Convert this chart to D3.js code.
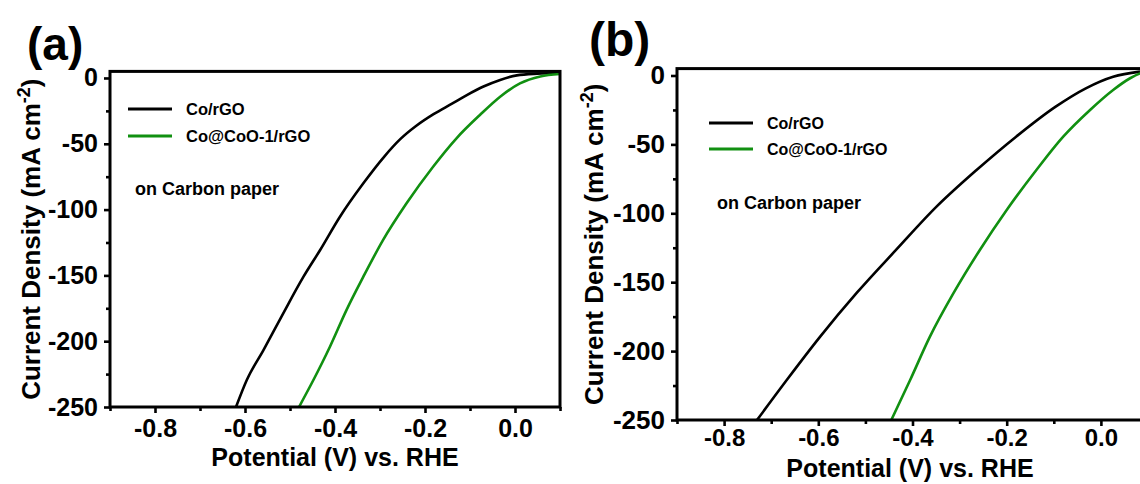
<!DOCTYPE html>
<html>
<head>
<meta charset="utf-8">
<script src="https://cdn.jsdelivr.net/npm/d3@7"></script>
<style>
  html, body { margin: 0; padding: 0; background: #fff; }
  svg { display: block; }
  text { font-family: "Liberation Sans", Arial, sans-serif; font-weight: bold; fill: #000; }
</style>
</head>
<body>
<svg id="chart" width="1140" height="484"></svg>
<script>
// ---------- data ----------
const seriesNames = ["Co/rGO", "Co@CoO-1/rGO"];
const seriesColors = ["#000000", "#119011"];
const annotation = "on Carbon paper";
const panelLabels = ["(a)", "(b)"];
const xTickValues = [-0.8, -0.6, -0.4, -0.2, 0.0];
const xMinorValues = [-0.9, -0.7, -0.5, -0.3, -0.1, 0.1];
const yTickValues = [0, -50, -100, -150, -200, -250];
const yMinorValues = [-25, -75, -125, -175, -225];
const xDomain = [-0.9, 0.1];
const yDomain = [-250, 5];

// Panel (a): Co/rGO
const potA_Co = [-0.620, -0.596, -0.559, -0.515, -0.470, -0.433, -0.389, -0.337, -0.290, -0.255, -0.220, -0.181, -0.140, -0.107, -0.070, -0.033, 0.004, 0.050, 0.100];
const curA_Co = [-250, -229.5, -206.7, -178.8, -151, -130.7, -105.4, -80, -59.5, -46.5, -36.5, -27.5, -19.5, -13.0, -6.5, -1.5, 2.0, 3.3, 3.8];
// Panel (a): Co@CoO-1/rGO
const potA_CoO = [-0.480, -0.448, -0.411, -0.374, -0.337, -0.293, -0.241, -0.182, -0.130, -0.078, -0.033, 0.011, 0.056, 0.100];
const curA_CoO = [-250, -229.5, -204, -176, -151, -123, -95.2, -67.4, -45.8, -28.1, -14.2, -4.1, 1.2, 3.0];
// Panel (b): Co/rGO
const potB_Co = [-0.730, -0.667, -0.596, -0.519, -0.435, -0.349, -0.264, -0.180, -0.096, -0.032, 0.026, 0.083];
const curB_Co = [-250, -221, -189.5, -158, -126.6, -95.2, -68.6, -44.4, -22.6, -9.3, -0.9, 2.8];
// Panel (b): Co@CoO-1/rGO
const potB_CoO = [-0.445, -0.405, -0.363, -0.313, -0.257, -0.200, -0.137, -0.080, -0.023, 0.026, 0.062, 0.083, 0.100];
const curB_CoO = [-250, -221, -189.5, -158, -126.6, -97.6, -68.6, -44.4, -25, -10.5, -2, 1.5, 3.0];

const xTitle = "Potential (V) vs. RHE";

// ---------- layout ----------
const panels = [
  { label: panelLabels[0], left: 110, right: 560, top: 71.4, bottom: 407,
    labelPos: [27, 60], labelFs: 46, yTitleX: 40,
    legend: { x1: 128, x2: 172, y: 109, dy: 27, tx: 186, fs: 16.5 },
    note: { x: 135, y: 195, fs: 18 },
    tickFs: 25, yTickFs: 25, xPad: 6, titleFs: 25,
    xTitleY: 466, xTitleCx: 335,
    series: [[potA_Co, curA_Co], [potA_CoO, curA_CoO]] },
  { label: panelLabels[1], left: 677, right: 1148, top: 68.6, bottom: 420,
    labelPos: [589, 56], labelFs: 48, yTitleX: 603,
    legend: { x1: 709, x2: 753, y: 123, dy: 26, tx: 767, fs: 16 },
    note: { x: 717, y: 209, fs: 18 },
    tickFs: 24, yTickFs: 26, xPad: 3, titleFs: 25,
    xTitleY: 477, xTitleCx: 910,
    series: [[potB_Co, curB_Co], [potB_CoO, curB_CoO]] }
];

const svg = d3.select("#chart");
const defs = svg.append("defs");

panels.forEach((p, i) => {
  const x = d3.scaleLinear().domain(xDomain).range([p.left, p.right]);
  const y = d3.scaleLinear().domain(yDomain).range([p.bottom, p.top]);
  const g = svg.append("g");

  defs.append("clipPath").attr("id", "clip" + i)
    .append("rect").attr("x", p.left).attr("y", p.top)
    .attr("width", p.right - p.left).attr("height", p.bottom - p.top);

  // curves
  const line = d3.line().x(d => x(d[0])).y(d => y(d[1])).curve(d3.curveMonotoneX);
  p.series.forEach((s, k) => {
    const pts = s[0].map((v, j) => [v, s[1][j]]);
    g.append("path").datum(pts)
      .attr("clip-path", `url(#clip${i})`)
      .attr("d", line)
      .attr("fill", "none")
      .attr("stroke", seriesColors[k])
      .attr("stroke-width", 2.6)
      .attr("stroke-linejoin", "round");
  });

  // axes
  const yAxis = d3.axisLeft(y).tickValues(yTickValues).tickSize(6).tickPadding(6)
    .tickFormat(d => String(d));
  const yMinor = d3.axisLeft(y).tickValues(yMinorValues).tickSize(4).tickFormat("");
  const xAxis = d3.axisBottom(x).tickValues(xTickValues).tickSize(6).tickPadding(p.xPad)
    .tickFormat(d => d.toFixed(1));
  const xMinor = d3.axisBottom(x).tickValues(xMinorValues).tickSize(4).tickFormat("");

  const ya = g.append("g").attr("transform", `translate(${p.left},0)`).call(yAxis);
  const ym = g.append("g").attr("transform", `translate(${p.left},0)`).call(yMinor);
  const xa = g.append("g").attr("transform", `translate(0,${p.bottom})`).call(xAxis);
  const xm = g.append("g").attr("transform", `translate(0,${p.bottom})`).call(xMinor);
  [ya, ym, xa, xm].forEach(a => {
    a.select(".domain").remove();
    a.selectAll(".tick line").attr("stroke", "#000").attr("stroke-width", 2.6);
    a.selectAll(".tick text").style("font-family", "'Liberation Sans', Arial, sans-serif").style("font-weight", "bold").attr("fill", "#000");
  });
  ya.selectAll(".tick text").style("font-size", p.yTickFs + "px");
  xa.selectAll(".tick text").style("font-size", p.tickFs + "px").attr("dy", "0.71em");

  // frame
  g.append("rect")
    .attr("x", p.left).attr("y", p.top)
    .attr("width", p.right - p.left).attr("height", p.bottom - p.top)
    .attr("fill", "none").attr("stroke", "#000").attr("stroke-width", 3);

  // axis titles
  g.append("text")
    .attr("x", p.xTitleCx)
    .attr("y", p.xTitleY)
    .attr("text-anchor", "middle")
    .style("font-size", p.titleFs + "px")
    .text(xTitle);

  const yt = g.append("text")
    .attr("transform", `translate(${p.yTitleX},${(p.top + p.bottom) / 2}) rotate(-90)`)
    .attr("text-anchor", "middle")
    .style("font-size", "26px");
  yt.append("tspan").text("Current Density (mA cm");
  yt.append("tspan").attr("dy", -10).style("font-size", "18px").text("-2");
  yt.append("tspan").attr("dy", 10).text(")");

  // panel label
  g.append("text").attr("x", p.labelPos[0]).attr("y", p.labelPos[1])
    .style("font-size", p.labelFs + "px").text(p.label);

  // legend
  seriesNames.forEach((name, k) => {
    const ly = p.legend.y + k * p.legend.dy;
    g.append("line").attr("x1", p.legend.x1).attr("x2", p.legend.x2)
      .attr("y1", ly).attr("y2", ly)
      .attr("stroke", seriesColors[k]).attr("stroke-width", 3);
    g.append("text").attr("x", p.legend.tx).attr("y", ly).attr("dy", "0.36em")
      .style("font-size", p.legend.fs + "px").text(name);
  });

  g.append("text").attr("x", p.note.x).attr("y", p.note.y)
    .style("font-size", p.note.fs + "px").text(annotation);
});
</script>
</body>
</html>
